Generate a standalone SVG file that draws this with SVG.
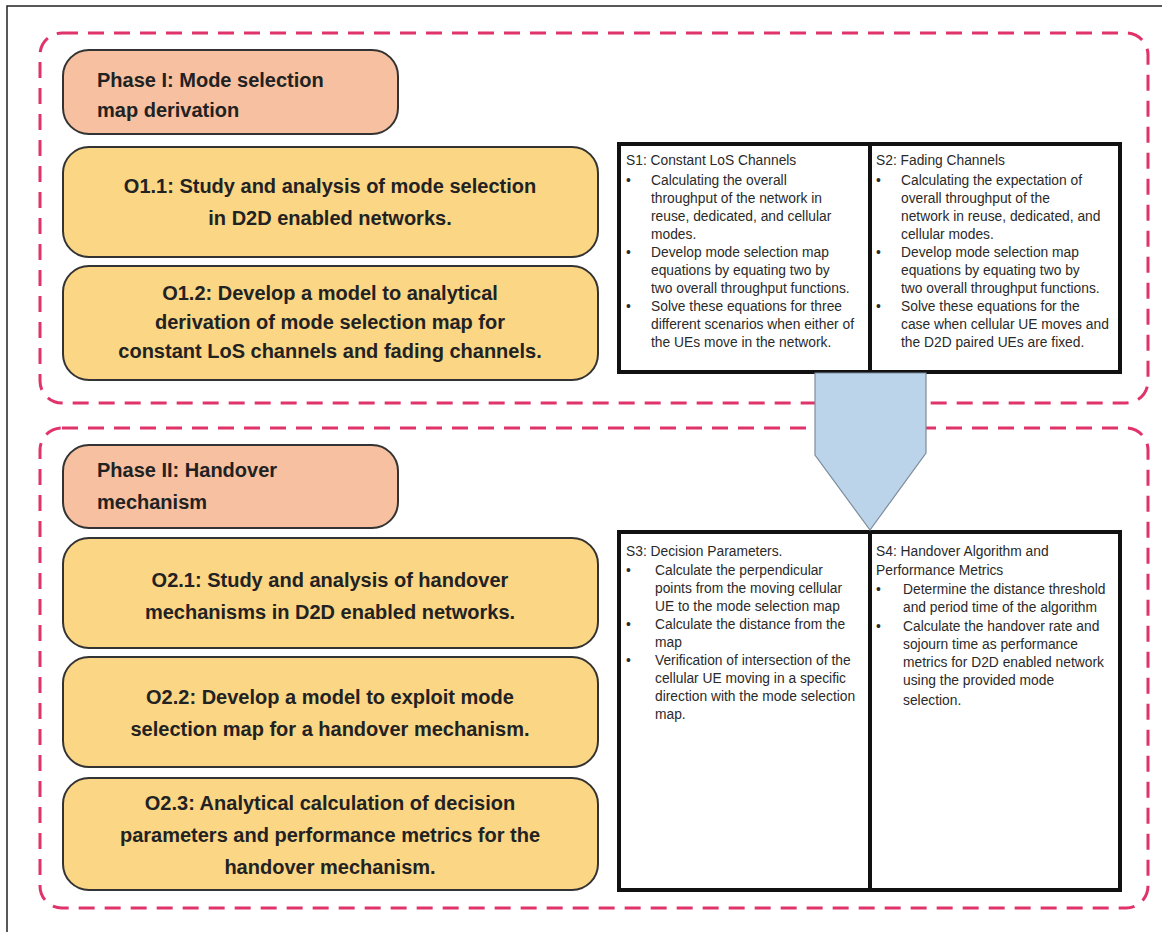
<svg xmlns="http://www.w3.org/2000/svg" width="1162" height="932" viewBox="0 0 1162 932">
<style>
.frame{fill:none;stroke:#222;stroke-width:1.5}
.dash{fill:none;stroke:#e0336a;stroke-width:3;stroke-dasharray:16 10}
.phase{fill:#f7c0a0;stroke:#333;stroke-width:2}
.obj{fill:#fbd685;stroke:#333;stroke-width:2}
.sbox{fill:#fff;stroke:#111;stroke-width:4}
.big{font-family:"Liberation Sans",Arial,sans-serif;font-weight:bold;font-size:20px;fill:#222}
.mid{text-anchor:middle}
.sm{font-family:"Liberation Sans",Arial,sans-serif;font-size:13.8px;fill:#2a2a2a}
.arrow{fill:#bcd4ea;stroke:#7d8c9c;stroke-width:1.2}
</style>
<rect width="1162" height="932" fill="#fff"/>
<path class="frame" d="M7,932 V6 H1162"/>
<g id="phase1-container"><rect class="dash" x="40" y="33" width="1108" height="370" rx="22"/></g>
<g id="phase2-container"><rect class="dash" x="40" y="428" width="1108" height="480" rx="22"/></g>

<g id="phase1">
<rect class="phase" x="63" y="50" width="335" height="84" rx="26"/>
<text class="big" x="97" y="87">Phase I: Mode selection</text>
<text class="big" x="97" y="117">map derivation</text>
</g>
<g id="o11">
<rect class="obj" x="63" y="147" width="535" height="110" rx="26"/>
<text class="big mid" x="330" y="193">O1.1: Study and analysis of mode selection</text>
<text class="big mid" x="330" y="225">in D2D enabled networks.</text>
</g>
<g id="o12">
<rect class="obj" x="63" y="266" width="535" height="114" rx="26"/>
<text class="big mid" x="330" y="300">O1.2: Develop a model to analytical</text>
<text class="big mid" x="330" y="329">derivation of mode selection map for</text>
<text class="big mid" x="330" y="358">constant LoS channels and fading channels.</text>
</g>

<g id="phase2">
<rect class="phase" x="63" y="445" width="335" height="83" rx="26"/>
<text class="big" x="97" y="477">Phase II: Handover</text>
<text class="big" x="97" y="509">mechanism</text>
</g>
<g id="o21">
<rect class="obj" x="63" y="538" width="535" height="110" rx="26"/>
<text class="big mid" x="330" y="587">O2.1: Study and analysis of handover</text>
<text class="big mid" x="330" y="619">mechanisms in D2D enabled networks.</text>
</g>
<g id="o22">
<rect class="obj" x="63" y="657" width="535" height="110" rx="26"/>
<text class="big mid" x="330" y="704">O2.2: Develop a model to exploit mode</text>
<text class="big mid" x="330" y="736">selection map for a handover mechanism.</text>
</g>
<g id="o23">
<rect class="obj" x="63" y="778" width="535" height="112" rx="26"/>
<text class="big mid" x="330" y="810">O2.3: Analytical calculation of decision</text>
<text class="big mid" x="330" y="842">parameters and performance metrics for the</text>
<text class="big mid" x="330" y="874">handover mechanism.</text>
</g>

<g id="s12">
<rect class="sbox" x="619" y="144" width="501" height="228"/>
<line x1="870" y1="144" x2="870" y2="372" stroke="#111" stroke-width="4"/>
</g>
<g id="s1" class="sm">
<text x="626" y="165">S1: Constant LoS Channels</text>
<text x="626" y="185">•</text><text x="651" y="185">Calculating the overall</text>
<text x="651" y="203">throughput of the network in</text>
<text x="651" y="221">reuse, dedicated, and cellular</text>
<text x="651" y="239">modes.</text>
<text x="626" y="257">•</text><text x="651" y="257">Develop mode selection map</text>
<text x="651" y="275">equations by equating two by</text>
<text x="651" y="293">two overall throughput functions.</text>
<text x="626" y="311">•</text><text x="651" y="311">Solve these equations for three</text>
<text x="651" y="329">different scenarios when either of</text>
<text x="651" y="347">the UEs move in the network.</text>
</g>
<g id="s2" class="sm">
<text x="876" y="165">S2: Fading Channels</text>
<text x="876" y="185">•</text><text x="901" y="185">Calculating the expectation of</text>
<text x="901" y="203">overall throughput of the</text>
<text x="901" y="221">network in reuse, dedicated, and</text>
<text x="901" y="239">cellular modes.</text>
<text x="876" y="257">•</text><text x="901" y="257">Develop mode selection map</text>
<text x="901" y="275">equations by equating two by</text>
<text x="901" y="293">two overall throughput functions.</text>
<text x="876" y="311">•</text><text x="901" y="311">Solve these equations for the</text>
<text x="901" y="329">case when cellular UE moves and</text>
<text x="901" y="347">the D2D paired UEs are fixed.</text>
</g>

<g id="s34">
<rect class="sbox" x="619" y="532" width="501" height="358"/>
<line x1="870" y1="532" x2="870" y2="890" stroke="#111" stroke-width="4"/>
</g>
<g id="s3" class="sm">
<text x="626" y="556">S3: Decision Parameters.</text>
<text x="626" y="575">•</text><text x="655" y="575">Calculate the perpendicular</text>
<text x="655" y="593">points from the moving cellular</text>
<text x="655" y="611">UE to the mode selection map</text>
<text x="626" y="629">•</text><text x="655" y="629">Calculate the distance from the</text>
<text x="655" y="647">map</text>
<text x="626" y="665">•</text><text x="655" y="665">Verification of intersection of the</text>
<text x="655" y="683">cellular UE moving in a specific</text>
<text x="655" y="701">direction with the mode selection</text>
<text x="655" y="719">map.</text>
</g>
<g id="s4" class="sm">
<text x="876" y="556">S4: Handover Algorithm and</text>
<text x="876" y="575">Performance Metrics</text>
<text x="876" y="594">•</text><text x="903" y="594">Determine the distance threshold</text>
<text x="903" y="612">and period time of the algorithm</text>
<text x="876" y="631">•</text><text x="903" y="631">Calculate the handover rate and</text>
<text x="903" y="649">sojourn time as performance</text>
<text x="903" y="667">metrics for D2D enabled network</text>
<text x="903" y="685">using the provided mode</text>
<text x="903" y="705">selection.</text>
</g>

<g id="connectors">
<polygon class="arrow" points="815,373 926,373 926,453 870,530 815,455"/>
</g>
</svg>
